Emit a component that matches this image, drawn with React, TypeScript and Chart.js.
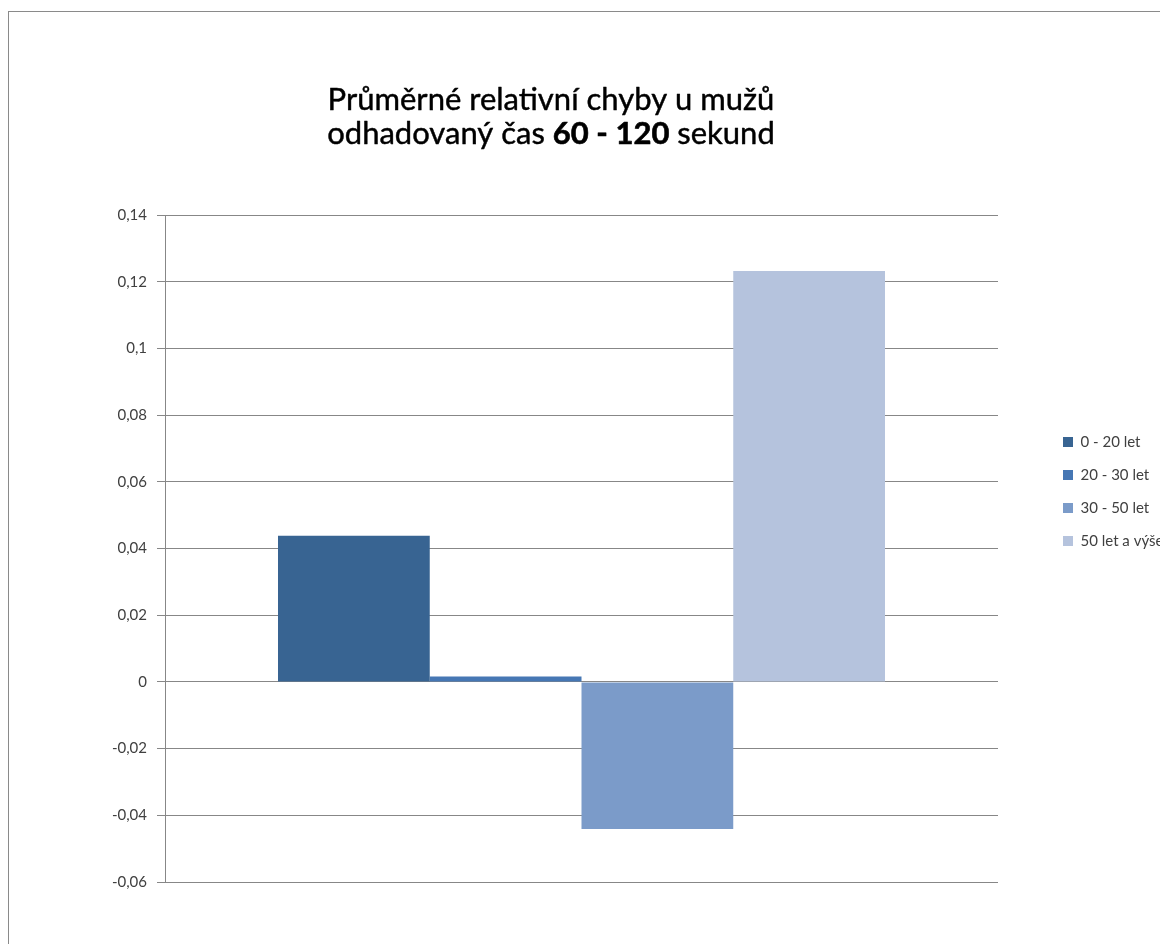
import { useEffect, useRef } from 'react';
import { Chart, registerables } from 'chart.js';

Chart.register(...registerables);

// ---- data ----
const CATEGORIES = [''];
const SERIES_LABELS = ['0 - 20 let', '20 - 30 let', '30 - 50 let', '50 let a výše'];
const SERIES_0_20 = [0.0438];
const SERIES_20_30 = [0.0016];
const SERIES_30_50 = [-0.0441];
const SERIES_50_PLUS = [0.1232];
const SERIES_COLORS = ['#386492', '#4677b4', '#7b9bc9', '#b5c3dd'];
const Y_TICK_VALUES = [-0.06, -0.04, -0.02, 0, 0.02, 0.04, 0.06, 0.08, 0.1, 0.12, 0.14];
const Y_TICK_LABELS = ['-0,06', '-0,04', '-0,02', '0', '0,02', '0,04', '0,06', '0,08', '0,1', '0,12', '0,14'];
const TITLE_LINE_1 = 'Průměrné relativní chyby u mužů';
const TITLE_LINE_2 = [
  { text: 'odhadovaný čas ', bold: false },
  { text: '60 - 120', bold: true },
  { text: ' sekund', bold: false },
];

// ---- layout constants ----
const CANVAS_W = 1240;
const CANVAS_H = 960;
const FONT = 'Lato';
const TITLE_SIZE = 31;
const TITLE_CENTER_X = 542;
const TITLE_BASE_1 = 98;
const TITLE_BASE_2 = 132;
const LEGEND_GAP = 47;
const LEGEND_SHIFT_Y = -57;
const GRID_COLOR = '#878787';
const TEXT_COLOR = '#404040';

const titlePlugin = {
  id: 'mixedTitle',
  afterDraw(chart: any) {
    const ctx = chart.ctx as CanvasRenderingContext2D;
    ctx.save();
    ctx.fillStyle = '#000';
    ctx.strokeStyle = '#000';
    ctx.lineJoin = 'round';
    ctx.textBaseline = 'alphabetic';
    const f = (b: boolean) => `${b ? 'bold' : 'normal'} ${TITLE_SIZE}px ${FONT}`;
    const draw = (text: string, x: number, y: number, bold: boolean) => {
      ctx.font = f(bold);
      ctx.fillText(text, x, y);
      ctx.lineWidth = bold ? 0.6 : 0.45;
      ctx.strokeText(text, x, y);
    };
    ctx.textAlign = 'center';
    draw(TITLE_LINE_1, TITLE_CENTER_X, TITLE_BASE_1, false);
    const segs = TITLE_LINE_2.map((s) => {
      ctx.font = f(s.bold);
      return { ...s, w: ctx.measureText(s.text).width };
    });
    const total = segs.reduce((a, s) => a + s.w, 0);
    let x = TITLE_CENTER_X - total / 2;
    ctx.textAlign = 'left';
    segs.forEach((s) => {
      draw(s.text, x, TITLE_BASE_2, s.bold);
      x += s.w;
    });
    ctx.restore();
  },
};

const legendPlacePlugin = {
  id: 'legendPlace',
  afterLayout(chart: any) {
    const lg = chart.legend;
    if (!lg) return;
    const dx = chart.chartArea.right + LEGEND_GAP - lg.left;
    lg.left += dx;
    lg.right += dx;
    lg.top += LEGEND_SHIFT_Y;
    lg.bottom += LEGEND_SHIFT_Y;
  },
};

export default function App() {
  const ref = useRef<HTMLCanvasElement>(null);

  useEffect(() => {
    if (!ref.current) return;
    Chart.defaults.font.family = FONT;
    const seriesData = [SERIES_0_20, SERIES_20_30, SERIES_30_50, SERIES_50_PLUS];
    const chart = new Chart(ref.current, {
      type: 'bar',
      data: {
        labels: CATEGORIES,
        datasets: SERIES_LABELS.map((label, i) => ({
          label,
          data: seriesData[i],
          backgroundColor: SERIES_COLORS[i],
          borderWidth: 0,
          categoryPercentage: 0.7287,
          barPercentage: 1,
        })),
      },
      options: {
        responsive: false,
        animation: false,
        devicePixelRatio: 1,
        layout: { padding: { top: 203, bottom: 90, left: 0, right: 131 } },
        plugins: {
          title: { display: false },
          tooltip: { enabled: false },
          legend: {
            display: true,
            position: 'right',
            maxWidth: 120,
            labels: {
              boxWidth: 10,
              boxHeight: 10,
              padding: 18,
              color: TEXT_COLOR,
              font: { family: FONT, size: 15 },
            },
          },
        },
        scales: {
          x: { display: false },
          y: {
            min: -0.06,
            max: 0.14,
            afterBuildTicks: (scale: any) => {
              scale.ticks = Y_TICK_VALUES.map((v) => ({ value: v }));
            },
            afterFit: (scale: any) => {
              scale.width = 156;
            },
            ticks: {
              padding: 10,
              color: TEXT_COLOR,
              font: { family: FONT, size: 15 },
              callback: (_v: any, i: number) => Y_TICK_LABELS[i],
            },
            grid: { color: GRID_COLOR, lineWidth: 1, tickLength: 8, drawTicks: true },
            border: { display: true, color: GRID_COLOR, width: 1 },
          },
        },
      },
      plugins: [titlePlugin, legendPlacePlugin],
    });
    return () => chart.destroy();
  }, []);

  return (
    <div style={{ position: 'absolute', left: 8, top: 11, width: 1152, height: 933, overflow: 'hidden' }}>
      <div
        style={{
          position: 'relative',
          width: 1260,
          height: 1000,
          borderLeft: '1px solid #8a8a8a',
          borderTop: '1px solid #8a8a8a',
          boxSizing: 'border-box',
          background: '#fff',
        }}
      >
        <canvas
          ref={ref}
          width={CANVAS_W}
          height={CANVAS_H}
          style={{ position: 'absolute', left: 0, top: 0, display: 'block', width: CANVAS_W, height: CANVAS_H }}
        />
      </div>
    </div>
  );
}
